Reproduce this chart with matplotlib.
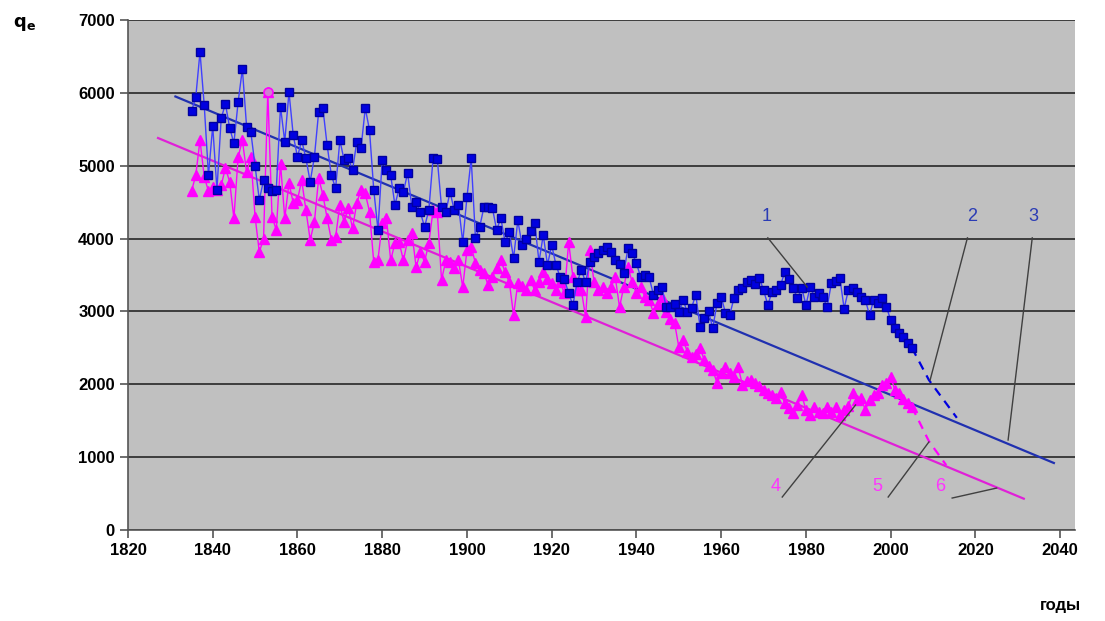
import numpy as np
import matplotlib
matplotlib.use("Agg")
import matplotlib.pyplot as plt

plt.rcParams['font.family'] = ['Liberation Sans', 'DejaVu Sans']

years = np.arange(1835, 2006)

# curve 1 (blue squares)
q_blue = [
    5750, 5940, 6560, 5830, 4870, 5545, 4670, 5650, 5850, 5520,
    5310, 5875, 6330, 5530, 5460, 5000, 4530, 4800, 4700, 4650,
    4670, 5810, 5330, 6010, 5420, 5120, 5350, 5100, 4780, 5120,
    5740, 5790, 5280, 4870, 4690, 5350, 5080, 5100, 4940, 5330,
    5240, 5790, 5490, 4670, 4120, 5080, 4940, 4870, 4460, 4690,
    4640, 4900, 4430, 4500, 4360, 4160, 4390, 5100, 5090, 4430,
    4360, 4640, 4390, 4460, 3950, 4570, 5100, 4010, 4160, 4430,
    4430, 4420, 4120, 4280, 3950, 4090, 3730, 4250, 3910, 4000,
    4100, 4210, 3680, 4050, 3640, 3910, 3640, 3470, 3440, 3250,
    3090, 3400, 3570, 3400, 3680, 3750, 3800, 3850, 3890, 3815,
    3700, 3650, 3530, 3870, 3800, 3660, 3470, 3500, 3470, 3230,
    3300, 3335, 3060, 3060, 3100, 2990, 3160, 2990, 3050, 3230,
    2790, 2910, 3000, 2770, 3110, 3200, 2980, 2950, 3180, 3290,
    3320, 3400, 3430, 3380, 3460, 3290, 3090, 3270, 3300, 3360,
    3540, 3450, 3320, 3180, 3320, 3090, 3340, 3200, 3250, 3200,
    3060, 3390, 3420, 3460, 3040, 3290, 3320, 3270, 3200, 3160,
    2950, 3160, 3120, 3180, 3060, 2880, 2770, 2700, 2650, 2570,
    2500,
]

# curve 4 (magenta triangles)
q_mag = [
    4650, 4870, 5350, 4850, 4650, 4710, 4670, 4730, 4970, 4780,
    4280, 5120, 5350, 4910, 5120, 4300, 3815, 4000, 6010, 4300,
    4120, 5030, 4280, 4760, 4490, 4530, 4800, 4390, 3980, 4230,
    4830, 4600, 4280, 3980, 4020, 4460, 4230, 4420, 4140, 4490,
    4670, 4620, 4370, 3680, 3710, 4210, 4280, 3700, 3940, 3950,
    3700, 3980, 4080, 3610, 3815, 3680, 3940, 4390, 4360, 3430,
    3700, 3680, 3600, 3700, 3335, 3840, 3890, 3660, 3570, 3530,
    3360, 3470, 3600, 3700, 3540, 3400, 2950, 3390, 3350, 3300,
    3430, 3290, 3400, 3540, 3450, 3390, 3300, 3400, 3250, 3950,
    3470, 3300, 3290, 2920, 3840, 3400, 3290, 3335, 3250, 3335,
    3470, 3060, 3335, 3610, 3400, 3250, 3335, 3200, 3160, 2980,
    3100, 3200, 2990, 2900, 2840, 2510, 2610, 2450, 2375, 2420,
    2500, 2330, 2250, 2200, 2020, 2150, 2240, 2150, 2100, 2240,
    1990, 2050, 2060, 2020, 1980, 1920, 1880, 1850, 1810, 1900,
    1740, 1680, 1610, 1720, 1850, 1650, 1580, 1690, 1620, 1610,
    1690, 1620, 1690, 1580, 1650, 1700, 1880, 1780, 1810, 1650,
    1780, 1850, 1880, 1990, 2020, 2100, 1920, 1880, 1800, 1740,
    1690,
]
assert len(q_blue) == len(years) and len(q_mag) == len(years)

# dashed forecasts (2, 5)
fc_blue_x = [2005, 2009, 2015.6]
fc_blue_y = [2500, 2060, 1540]
fc_mag_x = [2005, 2009, 2013.1]
fc_mag_y = [1690, 1220, 890]

# linear trends (3, 6)
tr_blue_x = [1831.2, 2038.5]
tr_blue_y = [5950, 920]
tr_mag_x = [1827.1, 2031.4]
tr_mag_y = [5380, 430]

# number labels: text pos, leader start, leader end
labels = ['1', '2', '3', '4', '5', '6']
lab_xy = [(1970.8, 4190), (2019.2, 4190), (2033.6, 4190),
          (1972.9, 480), (1996.9, 480), (2011.7, 480)]
lead_from = [(1971.0, 4010), (2018.1, 4010), (2033.4, 4010),
             (1974.4, 453), (1999.4, 453), (2014.5, 439)]
lead_to = [(1980.3, 3335), (2009.3, 2059), (2027.7, 1235),
           (1991.7, 1716), (2009.0, 1208), (2025.0, 576)]
lab_col = ['#2a3bb5'] * 3 + ['#ff33ff'] * 3

blue = '#0000e0'
mag = '#ff00ff'

fig = plt.figure(figsize=(11.05, 6.21), dpi=100)
ax = fig.add_axes([0.1158, 0.1465, 0.8571, 0.8213])
ax.set_facecolor('#c0c0c0')

ax.set_xlim(1820, 2043.5)
ax.set_ylim(0, 7000)
ax.set_xticks(np.arange(1820, 2041, 20))
ax.set_yticks(np.arange(0, 7001, 1000))
ax.yaxis.grid(True, color='#333333', lw=1.3)
ax.set_axisbelow(True)
for s in ['top', 'right']:
    ax.spines[s].set_visible(False)
for s in ['left', 'bottom']:
    ax.spines[s].set_color('#555555')
    ax.spines[s].set_linewidth(1.2)
ax.tick_params(axis='both', direction='out', length=6, width=1.2,
               color='#555555', labelsize=12)
for t in ax.get_xticklabels() + ax.get_yticklabels():
    t.set_fontweight('bold')

# trend lines
ax.plot(tr_blue_x, tr_blue_y, color='#2030b0', lw=1.6, zorder=3)
ax.plot(tr_mag_x, tr_mag_y, color='#e020d8', lw=1.6, zorder=3)

# data
ax.plot(years, q_mag, color=mag, lw=1, marker='^', ms=6.5,
        mfc=mag, mec=mag, zorder=4)
ax.plot(years, q_blue, color='#4040ff', lw=1, marker='s', ms=5.8,
        mfc=blue, mec='#0000a0', zorder=5)
i53 = list(years).index(1853)
ax.plot(years[i53], q_mag[i53], marker='o', ms=6.5, mfc='#d080d0',
        mec=mag, mew=1.2, zorder=6)

# forecasts
ax.plot(fc_blue_x, fc_blue_y, color=blue, lw=1.6, ls=(0, (4, 3)), zorder=4)
ax.plot(fc_mag_x, fc_mag_y, color=mag, lw=1.6, ls=(0, (4, 3)), zorder=4)

for lab, (tx, ty), (x0, y0), (x1, y1), c in zip(labels, lab_xy, lead_from,
                                                lead_to, lab_col):
    ax.text(tx, ty, lab, color=c, fontsize=13, ha='center', va='bottom')
    ax.plot([x0, x1], [y0, y1], color='#404040', lw=1, zorder=6)

fig.text(0.012, 0.962, r'$\mathbf{q_e}$', fontsize=13, ha='left', va='center')
fig.text(0.96, 0.025, 'годы', fontsize=12, fontweight='bold',
         ha='center', va='center')

fig.savefig('out.png', dpi=100)
